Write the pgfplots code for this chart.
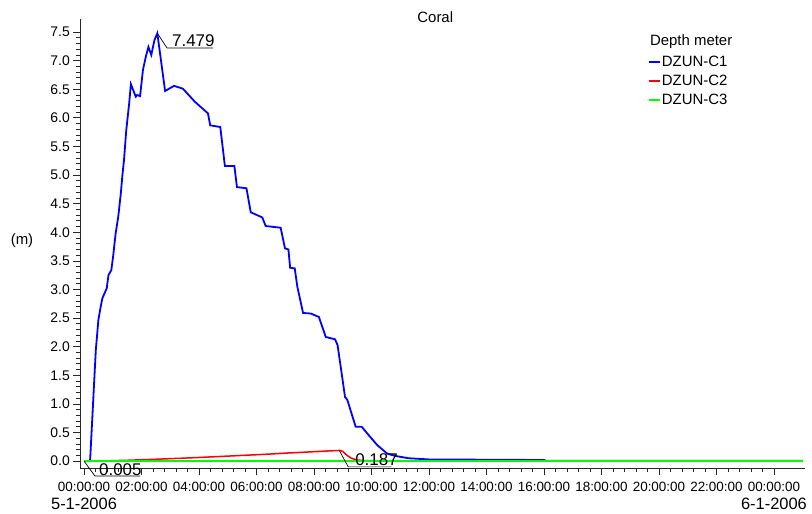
\documentclass[border=0pt]{standalone}
\usepackage{pgfplots}
\pgfplotsset{compat=1.18}
\usepackage{fontspec}
\setmainfont{Liberation Sans}

\begin{document}
\begin{tikzpicture}
\path[use as bounding box] (0bp,0bp) rectangle (812bp,514bp);
\begin{axis}[
  at={(80bp,46bp)}, anchor=south west,
  scale only axis, width=725bp, height=448.5bp,
  xmin=-0.14, xmax=25.08, ymin=-0.12, ymax=7.72,
  axis x line=bottom, axis y line=left,
  axis line style={-, black!85, line width=0.9bp},
  clip=false,
  tick align=outside,
  major tick length=7bp, minor tick length=4bp,
  every tick/.style={black!85, line width=0.8bp},
  xtick={0,2,...,24},
  minor x tick num=4,
  xticklabels={{00:00:00\\[2.5bp]\fontsize{16.5}{18}\selectfont 5-1-2006},02:00:00,04:00:00,06:00:00,08:00:00,10:00:00,12:00:00,14:00:00,16:00:00,18:00:00,20:00:00,22:00:00,{00:00:00\\[2.5bp]\fontsize{16.5}{18}\selectfont 6-1-2006}},
  xticklabel style={align=center, font=\fontsize{13.5}{15}\selectfont, inner sep=1bp, yshift=-6bp},
  ytick={0,0.5,...,7.5},
  minor y tick num=4,
  yticklabel style={font=\fontsize{14}{16}\selectfont, /pgf/number format/fixed, /pgf/number format/fixed zerofill, /pgf/number format/precision=1, inner sep=1bp, xshift=-2bp},
  /pgf/number format/assume math mode=true,
  legend style={draw=none, fill=none, at={(axis description cs:0.783,0.923)}, anchor=north west,
    font=\fontsize{15}{17}\selectfont, inner sep=0pt, row sep=3bp,
    nodes={text height=11bp, text depth=3bp, inner sep=1bp}},
  legend cell align=left,
  legend image code/.code={\draw[#1, line width=2bp] (0bp,0bp) -- (11bp,0bp);},
]
\addplot[blue, line width=1.8bp] coordinates {
(0,0) (0.21,0) (0.23,0.19) (0.29,0.77) (0.35,1.36) (0.41,1.94) (0.50,2.47) (0.58,2.70)
(0.64,2.85) (0.79,3.02) (0.85,3.25) (0.95,3.34) (1.01,3.57) (1.10,3.98) (1.19,4.27)
(1.28,4.68) (1.33,4.97) (1.39,5.26) (1.47,5.79) (1.57,6.25) (1.63,6.59) (1.80,6.37)
(1.85,6.40) (1.95,6.38) (2.05,6.84) (2.15,7.07) (2.24,7.24) (2.34,7.10) (2.45,7.36)
(2.55,7.479) (2.82,6.47) (3.13,6.56) (3.44,6.51) (3.86,6.28) (4.31,6.08) (4.39,5.87)
(4.74,5.84) (4.90,5.16) (5.23,5.16) (5.32,4.79) (5.65,4.77) (5.80,4.35) (6.20,4.26)
(6.32,4.11) (6.84,4.08) (6.99,3.72) (7.11,3.70) (7.17,3.38) (7.33,3.37) (7.42,3.05)
(7.62,2.59) (7.89,2.58) (8.17,2.52) (8.41,2.17) (8.73,2.13) (8.82,2.03) (9.08,1.12)
(9.16,1.07) (9.45,0.60) (9.66,0.60) (9.91,0.45) (10.20,0.28) (10.55,0.13) (10.84,0.09)
(11.30,0.05) (12.0,0.03) (16.0,0.02) (16.05,0.008) (25.0,0.008)
};
\addlegendentry{DZUN-C1}
\addplot[red, line width=1.5bp] coordinates {
(0,0) (0.5,0.002) (1,0.008) (1.5,0.015) (2,0.024) (2.5,0.033) (3,0.043) (3.5,0.053)
(4,0.064) (4.5,0.076) (5,0.088) (5.5,0.1) (6,0.112) (6.5,0.125) (7,0.14) (7.5,0.152)
(8,0.165) (8.5,0.178) (8.9,0.187) (9.0,0.17) (9.15,0.1) (9.3,0.05) (9.5,0.02)
(9.8,0.008) (10.5,0.005) (25,0.005)
};
\addlegendentry{DZUN-C2}
\addplot[green, line width=2bp] coordinates {
(0,0.002) (5,0.002) (10,0.002) (15,0.002) (20,0.002) (25,0.002)
};
\addlegendentry{DZUN-C3}

% annotations
\draw[black, line width=0.7bp] (axis cs:2.55,7.479) -- (axis cs:2.89,7.22) -- (axis cs:4.49,7.22);
\node[anchor=base west, inner sep=0pt, font=\fontsize{17}{19}\selectfont] at (axis cs:3.06,7.24) {7.479};
\draw[black, line width=0.7bp] (axis cs:0,0) -- (axis cs:0.38,-0.26) -- (axis cs:1.95,-0.26);
\node[anchor=base west, inner sep=0pt, font=\fontsize{17}{19}\selectfont] at (axis cs:0.52,-0.245) {0.005};
\draw[black, line width=0.7bp] (axis cs:8.88,0.187) -- (axis cs:9.19,-0.10) -- (axis cs:10.70,-0.10);
\node[anchor=base west, inner sep=0pt, font=\fontsize{17}{19}\selectfont] at (axis cs:9.43,-0.085) {0.187};

% texts
\node[anchor=base, font=\fontsize{15}{17}\selectfont] at (axis description cs:0.49,0.994) {Coral};
\node[anchor=center, font=\fontsize{15}{17}\selectfont] at (axis description cs:-0.080,0.508) {(m)};
\node[anchor=base west, inner sep=0pt, font=\fontsize{15}{17}\selectfont] at (axis description cs:0.786,0.941) {Depth meter};
\end{axis}
\end{tikzpicture}
\end{document}
